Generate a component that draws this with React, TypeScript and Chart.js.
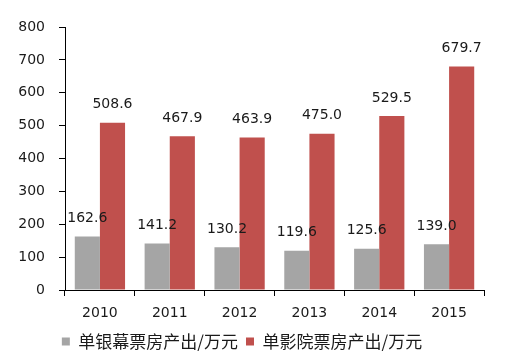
import React, { useEffect, useRef } from "react";
import { Chart, registerables } from "chart.js";

Chart.register(...registerables);

const categories = ["2010", "2011", "2012", "2013", "2014", "2015"];
const screenValues = [162.6, 141.2, 130.2, 119.6, 125.6, 139.0];
const cinemaValues = [508.6, 467.9, 463.9, 475.0, 529.5, 679.7];
const seriesNames = ["单银幕票房产出/万元", "单影院票房产出/万元"];
const yMax = 800;
const yStep = 100;

const labelPlugin = {
  id: "valueLabels",
  afterDatasetsDraw(chart: any) {
    const ctx = chart.ctx;
    ctx.save();
    ctx.font = "14px 'DejaVu Sans'";
    ctx.fillStyle = "#1a1a1a";
    ctx.textAlign = "center";
    ctx.textBaseline = "middle";
    chart.data.datasets.forEach((ds: any, i: number) => {
      const meta = chart.getDatasetMeta(i);
      meta.data.forEach((el: any, j: number) => {
        const v = ds.data[j] as number;
        ctx.fillText(v.toFixed(1), el.x, el.y - 18);
      });
    });
    ctx.restore();
  },
};

export default function App() {
  const ref = useRef<HTMLCanvasElement | null>(null);
  useEffect(() => {
    if (!ref.current) return;
    const chart = new Chart(ref.current, {
      type: "bar",
      data: {
        labels: categories,
        datasets: [
          {
            label: seriesNames[0],
            data: screenValues,
            backgroundColor: "#A5A5A5",
            categoryPercentage: 0.72,
            barPercentage: 1,
          },
          {
            label: seriesNames[1],
            data: cinemaValues,
            backgroundColor: "#C0504D",
            categoryPercentage: 0.72,
            barPercentage: 1,
          },
        ],
      },
      options: {
        responsive: false,
        animation: false,
        layout: { padding: { top: 27, right: 30, left: 0, bottom: 0 } },
        plugins: {
          tooltip: { enabled: false },
          legend: {
            position: "bottom",
            labels: {
              boxWidth: 8,
              boxHeight: 8,
              color: "#1a1a1a",
              font: { family: "'Noto Sans CJK SC'", size: 17 },
              padding: 8,
            },
          },
        },
        scales: {
          x: {
            grid: {
              display: true,
              drawOnChartArea: false,
              drawTicks: true,
              tickLength: 6,
              color: "#000000",
              offset: true,
            },
            border: { color: "#000000", width: 1 },
            ticks: {
              color: "#1a1a1a",
              font: { family: "'DejaVu Sans'", size: 14 },
              padding: 9,
            },
            afterFit(scale: any) {
              scale.height = 35;
            },
          },
          y: {
            min: 0,
            max: yMax,
            grid: {
              display: true,
              drawOnChartArea: false,
              drawTicks: true,
              tickLength: 6,
              color: "#000000",
            },
            border: { color: "#000000", width: 1 },
            ticks: {
              stepSize: yStep,
              color: "#1a1a1a",
              font: { family: "'DejaVu Sans'", size: 14 },
              padding: 14,
            },
            afterFit(scale: any) {
              scale.width = 65;
            },
          },
        },
      },
      plugins: [labelPlugin],
    });
    return () => chart.destroy();
  }, []);
  return (
    <div style={{ position: "fixed", left: 0, top: 0, width: 514, height: 360, background: "#fff" }}>
      <canvas ref={ref} width={514} height={360} />
    </div>
  );
}
